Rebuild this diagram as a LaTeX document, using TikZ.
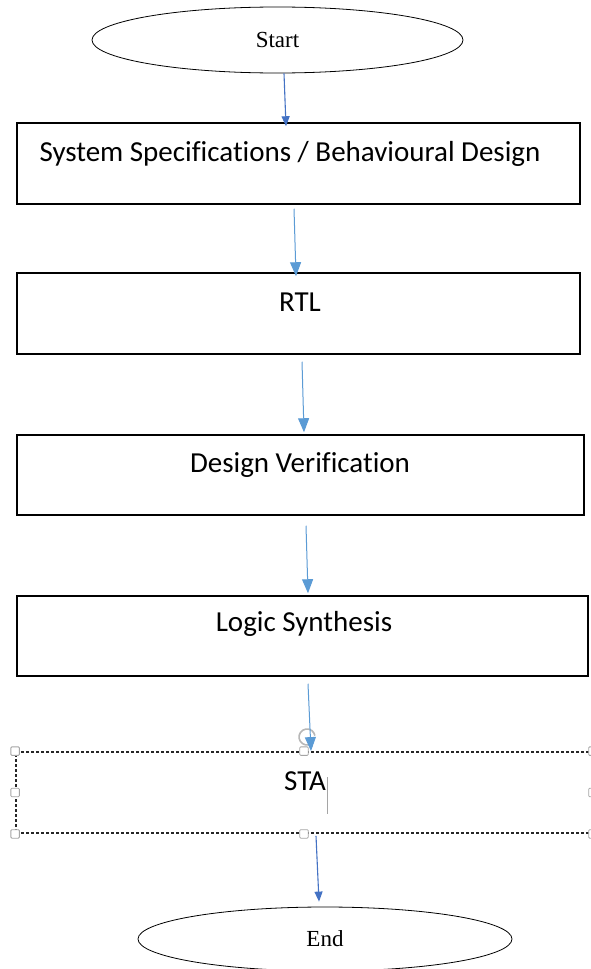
\documentclass[tikz,border=0pt]{standalone}
\usepackage{fontspec}
\setmainfont{Liberation Serif}
\newfontfamily\calib[Ligatures=NoCommon]{Carlito}
\usepackage{tikz}
\usetikzlibrary{positioning,calc}
\usetikzlibrary{arrows.meta,shapes.geometric}
\definecolor{FlowDark}{RGB}{68,114,196}
\definecolor{FlowLight}{RGB}{91,155,213}
\definecolor{HandleGray}{RGB}{165,165,165}
\tikzset{
  term/.style={ellipse,draw=black,fill=white,line width=0.8pt,inner sep=0pt,
    minimum width=371pt,minimum height=66pt,font=\fontsize{23}{27}\selectfont},
  title/.style={font=\calib\fontsize{29}{35}\selectfont,inner sep=0pt},
  stage/.style={draw=black,line width=1.5pt,minimum width=563pt,minimum height=81pt,inner sep=0pt},
  flow/.style={draw=FlowLight,line width=1pt,-{Triangle[width=11pt,length=14pt]}},
  flowdark/.style={draw=FlowDark,line width=1.1pt,-{Triangle[width=8pt,length=10pt]}},
}
\tikzset{handle/.style={rectangle,draw=HandleGray,fill=white,line width=0.8pt,minimum size=8.5pt,inner sep=0pt,rounded corners=1pt},
  selbox/.style={draw=black!85,line width=1.8pt,densely dashed,minimum width=576pt,minimum height=81pt,inner sep=0pt}}

\begin{document}
\begin{tikzpicture}[x=1pt,y=-1pt]
\useasboundingbox[fill=white] (0,0) rectangle (590,969);
\node[term](start) at (277.5,40){Start};
\node[stage](sys) at (298.5,163.5){};\node[title,anchor=base](sysT) at (290,161){System Specifications / Behavioural Design};
\node[stage](rtl) at (298.5,313.5){};\node[title,anchor=base](rtlT) at (300,311){RTL};
\node[stage,minimum width=567pt,minimum height=80pt](dv) at (300.5,475){};\node[title,anchor=base](dvT) at (300,472){Design Verification};
\node[stage,minimum width=571pt,minimum height=80pt](ls) at (302.5,636){};\node[title,anchor=base](lsT) at (304,631){Logic Synthesis};
\node[selbox](sta) at (304,792.5){};\node[title,anchor=base](staT) at (305,790){STA};
\node[term,minimum width=374pt,minimum height=64pt](end) at (325,939){End};
% selection marks round the STA box
\foreach \a in {north west,north,west,south west,south,north east,east,south east}
  \node[handle] at (sta.\a){};
\draw[HandleGray,line width=0.6pt] ([xshift=1.5pt]staT.base east |- 0,777) -- ([xshift=1.5pt]staT.base east |- 0,814);
\coordinate (rot) at (307,737);
\draw[HandleGray!80,line width=1.6pt,-{Stealth[length=4pt,width=5pt]}] ($(rot)+(7.9,-1.4)$) arc[start angle=10,end angle=320,radius=8pt];
% connectors
\draw[flowdark] ([xshift=6.5pt]start.south) -- ([xshift=-12.5pt,yshift=-4pt]sys.north);
\draw[flow] ([xshift=-4.5pt,yshift=-4pt]sys.south) -- ([xshift=-2.5pt,yshift=-4pt]rtl.north);
\draw[flow] ([xshift=3.5pt,yshift=-7pt]rtl.south) -- ([xshift=3.5pt,yshift=2pt]dv.north);
\draw[flow] ([xshift=5.5pt,yshift=-10pt]dv.south) -- ([xshift=5.5pt,yshift=2pt]ls.north);
\draw[flow] ([xshift=5.5pt,yshift=-7pt]ls.south) -- ([xshift=7pt]sta.north);
\draw[flowdark] ([xshift=12pt,yshift=-2pt]sta.south) -- ([xshift=-6pt,yshift=5pt]end.north);
\end{tikzpicture}
\end{document}
